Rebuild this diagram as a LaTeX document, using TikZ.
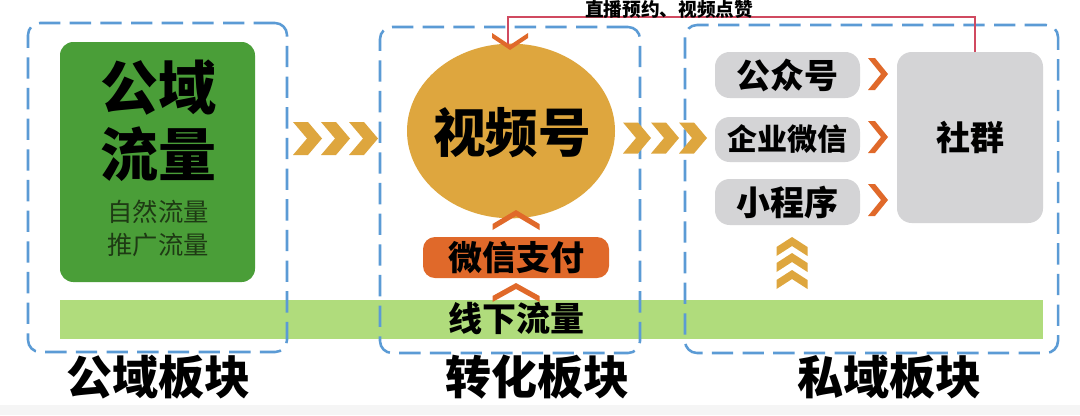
\documentclass[tikz,border=0pt]{standalone}
\usepackage{fontspec}
\newfontfamily\cjk{Noto Sans CJK SC}
\usetikzlibrary{fit,shapes.geometric,calc}
\definecolor{dashblue}{HTML}{5B9BD5}
\definecolor{boxgreen}{HTML}{4A9E38}
\definecolor{bargreen}{HTML}{B0DC7C}
\definecolor{gold}{HTML}{DEA63E}
\definecolor{orangeb}{HTML}{E0692A}
\definecolor{grayb}{HTML}{D4D4D6}
\definecolor{redline}{HTML}{D04A60}
\definecolor{darktext}{HTML}{1E3A14}
\begin{document}
\begin{tikzpicture}[x=0.75pt,y=-0.75pt,
  every node/.style={inner sep=0pt,outer sep=0pt,font=\cjk},
  dashbox/.style={draw=dashblue,line width=1.9pt,dash pattern=on 16pt off 7pt,rounded corners=9pt},
  greenbox/.style={fill=boxgreen,rounded corners=10pt},
  grbox/.style={fill=grayb,rounded corners=11pt},
  blab/.style={font=\cjk\bfseries\fontsize{34.5}{40}\selectfont},
  mlab/.style={font=\cjk\bfseries\fontsize{25.5}{30}\selectfont},
  % right-pointing chevron: #1 length, #2 half height, #3 thickness
  pics/chevright/.style args={#1/#2/#3}{code={
    \fill (0,-#2) -- (#3,-#2) -- (#1,0) -- (#3,#2) -- (0,#2) -- (#1-#3,0) -- cycle;}},
  % up-pointing chevron with base at origin
  pics/chevup/.style args={#1/#2/#3}{code={
    \fill (-#2,0) -- (-#2,-#3) -- (0,-#1) -- (#2,-#3) -- (#2,0) -- (0,-#1+#3) -- cycle;}},
  % down-pointing chevron with base at origin
  pics/chevdown/.style args={#1/#2/#3}{code={
    \fill (-#2,0) -- (-#2,#3) -- (0,#1) -- (#2,#3) -- (#2,0) -- (0,#1-#3) -- cycle;}}]
\useasboundingbox (0,0) rectangle (1080,415);
\fill[white] (0,0) rectangle (1080,415);
\fill[black!4] (0,405) rectangle (1080,415);
% left block
\node[greenbox,fit={(60,42) (255,282)}] (gbox) {};
\node[align=center,font=\cjk\bfseries\fontsize{43.5}{50}\selectfont] (gtitle) at (158,121) {公域\\流量};
\node[align=center,text=darktext,font=\cjk\fontsize{19}{24.75}\selectfont] (gsub) at (158,228) {自然流量\\推广流量};
% offline bar
\node[fill=bargreen,fit={(60,300) (1043,339)}] (bar) {};
\node[mlab] (offline) at (516,319) {线下流量};
% dashed blocks
\node[dashbox,fit={(28,23) (287,352)}] (pubblk) {};
\node[dashbox,fit={(380,27) (640,353)}] (convblk) {};
\node[dashbox,fit={(685,25) (1058,353)}] (privblk) {};
\node[blab] (publab) at (158,377) {公域板块};
\node[blab] (convlab) at (537,377) {转化板块};
\node[blab] (privlab) at (889,377) {私域板块};
% conversion block
\node[ellipse,fill=gold,minimum width=156pt,minimum height=131pt] (video) at (511,131) {};
\node[font=\cjk\bfseries\fontsize{39.5}{44}\selectfont] (videolab) at (512,133) {视频号};
\node[fill=orangeb,rounded corners=9pt,fit={(423,237) (609,278)}] (pay) {};
\node[mlab] (paylab) at (516,258) {微信支付};
% private block
\node[grbox,fit={(715,52) (860,98)}] (gzh) {};
\node[mlab] at (gzh) {公众号};
\node[grbox,fit={(715,117) (860,162)}] (qywx) {};
\node[font=\cjk\bfseries\fontsize{22.5}{26}\selectfont] at (qywx) {企业微信};
\node[grbox,fit={(715,179) (860,225)}] (xcx) {};
\node[mlab] at (xcx) {小程序};
\node[grbox,fit={(897,52) (1043,223)}] (shequn) {};
\node[mlab] at (shequn) {社群};
% chevrons between blocks
\foreach \x in {293,321,349} \pic[gold] at (\x,138.5) {chevright=29/16.5/15};
\foreach \x in {623,651,679} \pic[gold] at (\x,138) {chevright=28/15.5/15};
% orange chevrons to community
\foreach \y in {74,137,200} \pic[orangeb] at (868,\y) {chevright=20/16/7};
% orange up chevrons
\pic[orangeb] at (516,230) {chevup=20/23.5/6};
\pic[orangeb] at (516,302) {chevup=19/23.5/6};
% gold up chevrons
\foreach \y in {256,272,289} \pic[gold] at (792,\y) {chevup=19/15.5/9};
% feedback connector
\coordinate (topR) at ($(shequn.north)+(5,0)$);
\coordinate (topL) at ($(video.north)+(-3,4)$);
\draw[redline,line width=1.2pt] (topR) |- (508,17) -- (topL);
\pic[orangeb] at (510,33) {chevdown=17/18/5};
\node[font=\cjk\bfseries\fontsize{14}{16}\selectfont] (fb) at (669,9) {直播预约、视频点赞};
\end{tikzpicture}
\end{document}
